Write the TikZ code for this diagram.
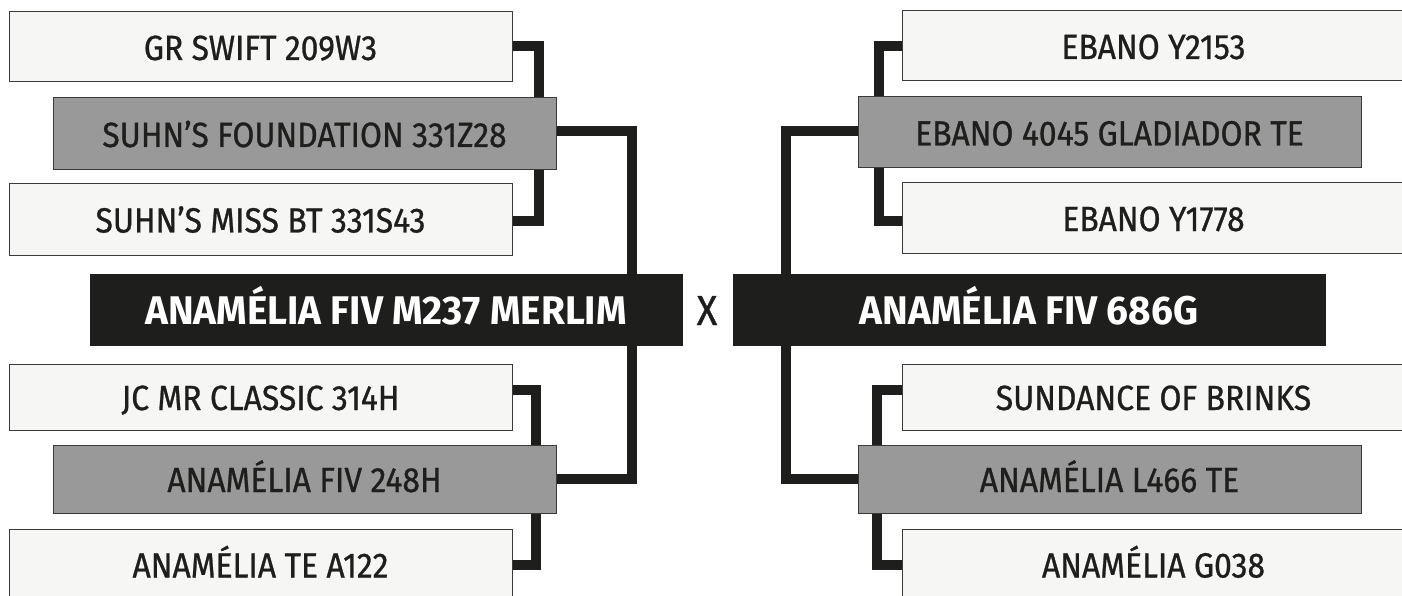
\documentclass[tikz,border=0pt]{standalone}
\usepackage{fontspec}
\setmainfont{Fira Sans}[FakeStretch=0.91, FakeBold=0.8]
\newfontfamily\headfont{Fira Sans}[FakeStretch=0.97]
\pgfdeclarelayer{bg}
\pgfsetlayers{bg,main}
\definecolor{ink}{HTML}{1E1E1C}
\definecolor{lightfill}{HTML}{F6F6F4}
\definecolor{midfill}{HTML}{999999}
\definecolor{edge}{HTML}{3A3A38}
\tikzset{
  x=1pt, y=-1pt,
  basebox/.style={rectangle, inner sep=0pt, outer sep=0pt, text=ink,
    font=\fontsize{35}{40}\selectfont, text height=26pt, text depth=0pt,
    draw=edge, line width=1pt, minimum width=503pt},
  lightbox/.style={basebox, fill=lightfill, minimum height=70pt},
  midbox/.style={basebox, fill=midfill, minimum height=71pt},
  darkbox/.style={basebox, fill=ink, draw=ink, text=white, minimum width=592pt,
    minimum height=71pt, text height=30pt,
    font=\headfont\fontsize{40}{44}\selectfont\bfseries},
  conn/.style={draw=ink, line width=10pt, line join=miter, line cap=rect},
}
\begin{document}
\begin{tikzpicture}
\useasboundingbox (0,0) rectangle (1402,596);
\clip (0,0) rectangle (1402,596);
% left family
\node[lightbox] (gr) at (260.5,47) {GR SWIFT 209W3};
\node[midbox, minimum height=72pt] (sf) at (304.5,134) {SUHN’S FOUNDATION 331Z28};
\node[lightbox, minimum height=71pt] (sm) at (260.5,219.5) {SUHN’S MISS BT 331S43};
\node[darkbox] (merlim) at (386,309.5) {ANAMÉLIA FIV M237 MERLIM};
\node[lightbox, minimum height=66pt] (jc) at (260.5,397) {JC MR CLASSIC 314H};
\node[midbox, minimum height=68pt] (f248) at (304.5,479) {ANAMÉLIA FIV 248H};
\node[lightbox, minimum height=71pt] (tea) at (260.5,564.5) {ANAMÉLIA TE A122};
% middle
\node[text=ink, font=\fontsize{42}{46}\selectfont, inner sep=0pt, text height=29pt, text depth=0pt] (x) at (707,310.5) {X};
% right family
\node[lightbox] (eb1) at (1153.5,46) {EBANO Y2153};
\node[midbox] (glad) at (1109.5,132.5) {EBANO 4045 GLADIADOR TE};
\node[lightbox] (eb2) at (1153.5,218) {EBANO Y1778};
\node[darkbox] (g686) at (1029,309.5) {ANAMÉLIA FIV 686G};
\node[lightbox, minimum height=66pt] (sund) at (1153.5,397) {SUNDANCE OF BRINKS};
\node[midbox, minimum height=68pt] (l466) at (1109.5,479) {ANAMÉLIA L466 TE};
\node[lightbox, minimum height=71pt] (g038) at (1153.5,564.5) {ANAMÉLIA G038};
\begin{pgfonlayer}{bg}
\draw[conn] ([yshift=1pt]gr.east) -| ([xshift=-17.5pt]sf.north east);
\draw[conn] ([xshift=-17.5pt]sf.south east) |- ([yshift=-1pt]sm.east);
\draw[conn] ([yshift=3pt]sf.east) -| ([xshift=-50pt]merlim.north east);
\draw[conn] ([xshift=-50pt]merlim.south east) |- (f248.east);
\draw[conn] ([yshift=7.5pt]jc.east) -| ([xshift=-20.5pt]f248.north east);
\draw[conn] ([xshift=-20.5pt]f248.south east) |- (tea.east);
\draw[conn] (eb1.west) -| ([xshift=21pt]glad.north west);
\draw[conn] ([xshift=21pt]glad.south west) |- ([yshift=-2.5pt]eb2.west);
\draw[conn] ([yshift=1.5pt]glad.west) -| ([xshift=52.5pt]g686.north west);
\draw[conn] ([xshift=52.5pt]g686.south west) |- (l466.west);
\draw[conn] ([yshift=7.5pt]sund.west) -| ([xshift=19pt]l466.north west);
\draw[conn] ([xshift=19pt]l466.south west) |- (g038.west);
\end{pgfonlayer}
\end{tikzpicture}
\end{document}
